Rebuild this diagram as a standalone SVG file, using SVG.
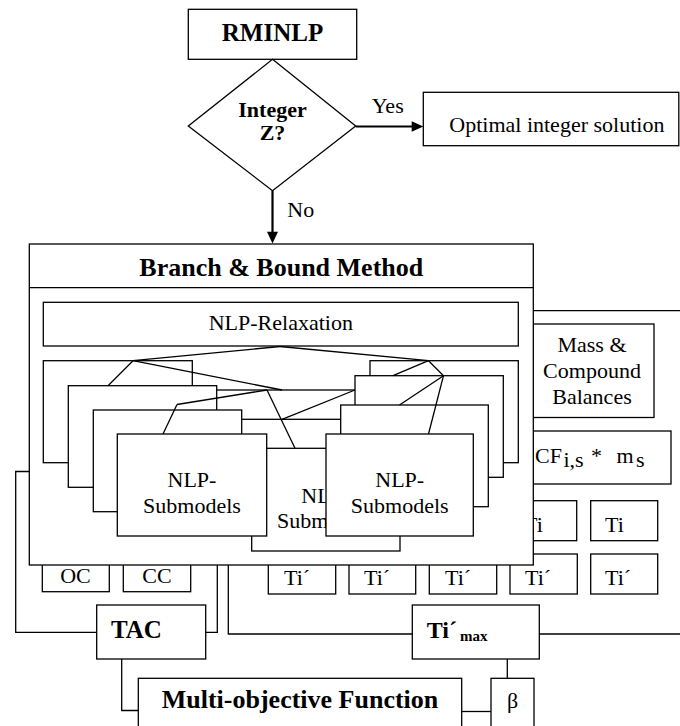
<svg xmlns="http://www.w3.org/2000/svg" width="680" height="726" viewBox="0 0 680 726">
<defs>
<style>
.b{fill:#fff;stroke:#000;stroke-width:1.3}
.l{fill:none;stroke:#000;stroke-width:1.3}
.a{fill:none;stroke:#000;stroke-width:2.2}
.t{font-family:"Liberation Serif","Times New Roman",serif;fill:#000;font-size:22px}
.tb{font-family:"Liberation Serif","Times New Roman",serif;fill:#000;font-weight:bold}
.m{text-anchor:middle}
</style>
</defs>
<rect width="680" height="726" fill="#fff"/>

<g id="rminlp"><rect class="b" x="188.3" y="9.3" width="168.4" height="50"/><text class="tb m" x="272.5" y="41" font-size="25">RMINLP</text></g>
<g id="decision"><polygon class="b" points="272.5,59.3 355.7,126 272.5,190.7 188.3,126"/><text class="tb m" x="272.5" y="117.3" font-size="22">Integer</text><text class="tb m" x="272.5" y="140" font-size="22">Z?</text></g>
<g id="optimal"><rect class="b" x="423.3" y="92.3" width="255.5" height="53.4"/><text class="t" x="449.3" y="132.3">Optimal integer solution</text></g>

<g id="mass"><rect class="b" x="533.3" y="324" width="120.7" height="93.5"/><text class="t m" x="592" y="351.7">Mass &amp;</text><text class="t m" x="592" y="378.3">Compound</text><text class="t m" x="592" y="404">Balances</text></g>
<g id="cf"><rect class="b" x="533.3" y="431" width="137.7" height="53"/><text class="t" x="535" y="463.3">CF</text><text class="t" x="563.5" y="466.7" font-size="15">i,s</text><text class="t" x="591" y="463.3">*</text><text class="t" x="616.5" y="463.3">m</text><text class="t" x="636" y="466.5" font-size="15">s</text></g>
<g id="ti4"><rect class="b" x="510" y="500.7" width="66.7" height="40"/><text class="t" x="524" y="531.7" font-size="25">Ti</text></g>
<g id="ti5"><rect class="b" x="590.7" y="500.7" width="67" height="40"/><text class="t" x="605" y="531.7" font-size="25">Ti</text></g>
<g id="tip1"><rect class="b" x="268.3" y="554" width="67.4" height="40"/><text class="t" x="284" y="585" font-size="25">Ti´</text></g>
<g id="tip2"><rect class="b" x="349" y="554" width="66.7" height="40"/><text class="t" x="364" y="585" font-size="25">Ti´</text></g>
<g id="tip3"><rect class="b" x="429.3" y="554" width="67.4" height="40"/><text class="t" x="445" y="585" font-size="25">Ti´</text></g>
<g id="tip4"><rect class="b" x="510" y="554" width="67.3" height="40"/><text class="t" x="525" y="585" font-size="25">Ti´</text></g>
<g id="tip5"><rect class="b" x="590.7" y="554" width="67" height="40"/><text class="t" x="605" y="585" font-size="25">Ti´</text></g>
<g id="oc"><rect class="b" x="42.3" y="554" width="67" height="37.7"/><text class="t m" x="75.5" y="582.7" font-size="25">OC</text></g>
<g id="cc"><rect class="b" x="123.3" y="554" width="67.4" height="37.7"/><text class="t m" x="157" y="582.7" font-size="25">CC</text></g>

<g id="bnb"><rect class="b" x="29.3" y="244" width="504" height="321"/><line class="l" x1="29.3" y1="287.7" x2="533.3" y2="287.7"/><text class="tb m" x="281.3" y="276" font-size="26">Branch &amp; Bound Method</text></g>
<g id="relax"><rect class="b" x="43.3" y="302.3" width="475" height="43.7"/><text class="t m" x="280.8" y="330">NLP-Relaxation</text></g>

<g id="m1"><rect class="b" x="210" y="390" width="152" height="102"/></g>
<g id="m2"><rect class="b" x="226" y="419.3" width="148" height="101.7"/></g>
<g id="m3"><rect class="b" x="251.7" y="448.3" width="148.3" height="102.7"/><text class="t m" x="325.8" y="503">NLP-</text><text class="t m" x="325.8" y="528.3">Submodels</text></g>
<g id="l1"><rect class="b" x="43.3" y="360.7" width="149" height="102"/></g>
<g id="l2"><rect class="b" x="68.3" y="385.7" width="148.4" height="101.6"/></g>
<g id="l3"><rect class="b" x="93.3" y="410" width="148.4" height="101.7"/></g>
<g id="l4"><rect class="b" x="117.3" y="434" width="149.4" height="102"/><text class="t m" x="192" y="486.7">NLP-</text><text class="t m" x="192" y="512.7">Submodels</text></g>
<g id="r1"><rect class="b" x="370" y="360.7" width="148.3" height="102"/></g>
<g id="r2"><rect class="b" x="355" y="375.7" width="148.3" height="101.6"/></g>
<g id="r3"><rect class="b" x="340.7" y="405" width="147.6" height="101.7"/></g>
<g id="r4"><rect class="b" x="326" y="434" width="147.3" height="102"/><text class="t m" x="399.7" y="486.7">NLP-</text><text class="t m" x="399.7" y="512.7">Submodels</text></g>

<g id="tac"><rect class="b" x="96.7" y="605" width="109" height="54"/><text class="tb" x="111" y="637.7" font-size="25">TAC</text></g>
<g id="timax"><rect class="b" x="412.3" y="605" width="127" height="54"/><text class="tb" x="426.7" y="638.3" font-size="24">Ti´</text><text class="tb" x="460" y="641" font-size="15">max</text></g>
<g id="mof"><rect class="b" x="138.3" y="678.3" width="323.4" height="60"/><text class="tb m" x="300" y="708.3" font-size="26">Multi-objective Function</text></g>
<g id="beta"><rect class="b" x="491" y="678.3" width="43" height="60"/><text class="t m" x="512.5" y="708.3">β</text></g>

<g id="connectors">
<line class="a" x1="355.7" y1="126.5" x2="413" y2="126.5"/>
<polygon points="411.7,121.3 423.3,126.5 411.7,131.7" fill="#000"/>
<text class="t" x="371.7" y="113.3" font-size="21">Yes</text>
<line class="a" x1="272.5" y1="190.7" x2="272.5" y2="233"/>
<polygon points="267,231.7 272.5,243.5 278,231.7" fill="#000"/>
<text class="t" x="287.3" y="217.3" font-size="21">No</text>
<polyline class="l" points="533.3,310.7 680,310.7"/>
<polyline class="l" points="29.3,471.5 15.7,471.5 15.7,632.3 96.7,632.3"/>
<polyline class="l" points="217.3,565 217.3,632.3 205.7,632.3"/>
<polyline class="l" points="228.3,565 228.3,634 412.3,634"/>
<polyline class="l" points="539.3,634 680,634"/>
<polyline class="l" points="121.7,659 121.7,710.5 138.3,710.5"/>
<polyline class="l" points="461.7,711.5 491,711.5"/>
<polyline class="l" points="507.3,659 507.3,678.3"/>
<line class="l" x1="280" y1="346.5" x2="133" y2="360.7"/>
<line class="l" x1="280" y1="346.5" x2="428.5" y2="360.7"/>
<line class="l" x1="133" y1="360.7" x2="108" y2="385.7"/>
<line class="l" x1="133" y1="360.7" x2="282" y2="390"/>
<line class="l" x1="267" y1="390" x2="177" y2="404.5"/>
<line class="l" x1="177" y1="404.5" x2="163" y2="434"/>
<line class="l" x1="267" y1="390" x2="295" y2="448.3"/>
<line class="l" x1="282" y1="419.3" x2="355" y2="390"/>
<line class="l" x1="428.5" y1="360.7" x2="393" y2="375.7"/>
<line class="l" x1="428.5" y1="360.7" x2="443.5" y2="375.7"/>
<line class="l" x1="443.5" y1="375.7" x2="399.5" y2="405"/>
<line class="l" x1="443.5" y1="375.7" x2="428.5" y2="434"/>
</g>
</svg>
